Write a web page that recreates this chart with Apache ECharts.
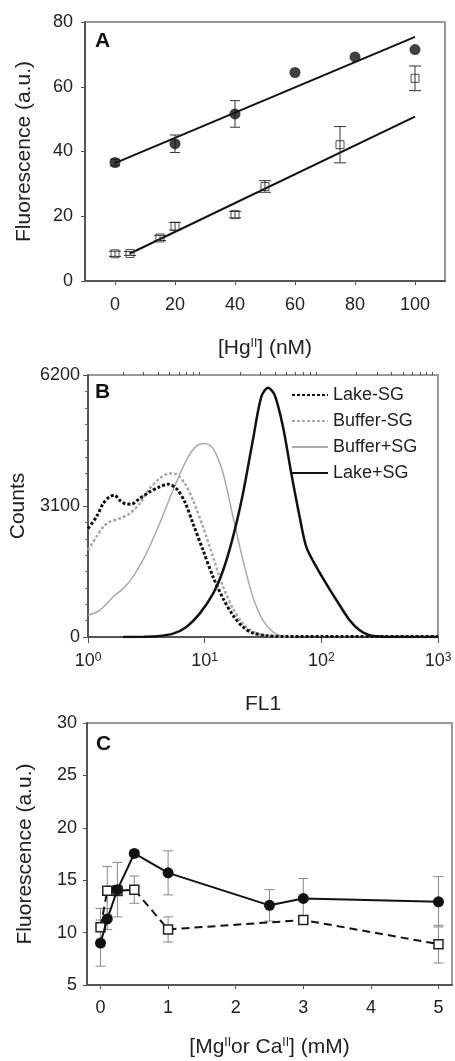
<!DOCTYPE html>
<html>
<head>
<meta charset="utf-8">
<script src="https://cdn.jsdelivr.net/npm/echarts@6/dist/echarts.min.js"></script>
<style>
html,body{margin:0;padding:0;background:#fff;}
#chart{width:455px;height:1061px;}
</style>
</head>
<body>
<div id="chart"></div>
<script>
// ---------- Panel A ----------
const aCircleX = [0, 20, 40, 60, 80, 100];
const aCircleY = [36.6, 42.4, 51.6, 64.4, 69.2, 71.5];
const aCircleErr = [1.0, 2.7, 4.1, 0, 0, 0];
const aSquareX = [0, 5, 15, 20, 40, 50, 75, 100];
const aSquareY = [8.4, 8.5, 13.3, 16.9, 20.5, 29.2, 42.1, 62.6];
const aSquareErr = [0.8, 0.6, 0.8, 1.2, 1.0, 1.8, 5.6, 3.8];
const aFitCircleX = [0, 100];
const aFitCircleY = [36.4, 75.4];
const aFitSquareX = [5, 100];
const aFitSquareY = [8.5, 50.8];
const aXTicks = [0, 20, 40, 60, 80, 100];

// ---------- Panel B ----------
const bLakeMinusX = [1, 1.18, 1.35, 1.53, 1.69, 1.87, 2.06, 2.35, 2.77, 3.38, 4.11, 4.85, 5.71, 6.75, 7.94, 9.68, 11.8, 14.4, 17.5, 21.3, 25.9, 33.8, 46.9, 100, 300, 1000];
const bLakeMinusY = [2567, 2843, 3159, 3317, 3357, 3238, 3159, 3143, 3278, 3436, 3554, 3617, 3515, 3199, 2685, 2054, 1422, 908, 513, 237, 95, 32, 12, 10, 10, 10];
const bBufferMinusX = [1, 1.18, 1.35, 1.53, 1.87, 2.28, 2.77, 3.38, 4.11, 5.01, 5.71, 6.75, 7.94, 9.68, 11.8, 14.4, 17.5, 21.3, 25.9, 33.8, 50];
const bBufferMinusY = [2054, 2370, 2606, 2725, 2804, 2922, 3159, 3515, 3752, 3870, 3854, 3633, 3238, 2606, 1896, 1185, 671, 316, 126, 32, 0];
const bBufferPlusX = [1, 1.26, 1.64, 2.0, 2.43, 3.16, 4.11, 5.36, 6.97, 8.49, 10, 11.8, 14.4, 17.5, 21.3, 25.9, 31.6, 38.5, 46.9, 60];
const bBufferPlusY = [513, 632, 948, 1145, 1422, 1975, 2685, 3475, 4186, 4518, 4580, 4462, 3870, 2843, 1817, 948, 395, 118, 16, 0];
const bLakePlusX = [2, 3, 3.85, 5.36, 6.97, 9.06, 11.8, 14.4, 17.5, 21.3, 25.9, 30.6, 34.9, 39.8, 46.9, 55.3, 65.2, 74.3, 90.6, 110, 135, 175, 213, 259, 338, 500, 1000];
const bLakePlusY = [0, 5, 16, 79, 237, 553, 1027, 1580, 2370, 3396, 4660, 5687, 5900, 5726, 4976, 3870, 2843, 2132, 1659, 1264, 869, 395, 158, 40, 8, 0, 0];
const bMajorTicks = [1, 10, 100, 1000];
const bMinorTicks = [2,3,4,5,6,7,8,9,20,30,40,50,60,70,80,90,200,300,400,500,600,700,800,900];
const bNames = ['Lake-SG', 'Buffer-SG', 'Buffer+SG', 'Lake+SG'];

// ---------- Panel C ----------
const cCircleX = [0, 0.1, 0.25, 0.5, 1, 2.5, 3, 5];
const cCircleY = [9.0, 11.3, 14.1, 17.55, 15.7, 12.6, 13.26, 12.94];
const cCircleErr = [2.2, 1.0, 2.6, 0.3, 2.1, 1.5, 1.9, 2.4];
const cSquareX = [0, 0.1, 0.25, 0.5, 1, 3, 5];
const cSquareY = [10.5, 14.0, 14.0, 14.1, 10.3, 11.2, 8.9];
const cSquareErr = [1.8, 2.3, 0.5, 1.3, 1.2, 0.4, 1.8];
const cXTicks = [0, 1, 2, 3, 4, 5];

const FONT = 'Liberation Sans, Arial, Helvetica, sans-serif';
const TXT = '#222';
const pairs = (xs, ys) => xs.map((x, i) => [x, ys[i]]);

function errBars(xi, yi, xs, ys, es, color, cap, z) {
  return {
    type: 'custom', xAxisIndex: xi, yAxisIndex: yi, z: z, silent: true,
    encode: {x: 0, y: [1, 2]},
    data: xs.map((x, i) => [x, ys[i] - es[i], ys[i] + es[i]]),
    renderItem: function (params, api) {
      if (api.value(2) <= api.value(1)) return null;
      const lo = api.coord([api.value(0), api.value(1)]);
      const hi = api.coord([api.value(0), api.value(2)]);
      const st = {stroke: color, lineWidth: 1};
      return {type: 'group', children: [
        {type: 'line', shape: {x1: lo[0], y1: lo[1], x2: hi[0], y2: hi[1]}, style: st},
        {type: 'line', shape: {x1: lo[0] - cap, y1: lo[1], x2: lo[0] + cap, y2: lo[1]}, style: st},
        {type: 'line', shape: {x1: hi[0] - cap, y1: hi[1], x2: hi[0] + cap, y2: hi[1]}, style: st}
      ]};
    }
  };
}

const axisLineDark = {show: true, onZero: false, lineStyle: {color: '#555', width: 2}};
const labelBase = {color: TXT, fontSize: 18, fontFamily: FONT};
const supRich = {sup: {fontSize: 12, verticalAlign: 'top', fontFamily: FONT, color: TXT}};
const nameBase = {color: TXT, fontSize: 21, fontFamily: FONT, rich: supRich};

const option = {
  animation: false,
  backgroundColor: '#fff',
  textStyle: {fontFamily: FONT},
  grid: [
    {left: 85, right: 10, top: 22, height: 259, show: true, borderColor: '#999', borderWidth: 2},
    {left: 88, right: 17, top: 375, height: 262, show: true, borderColor: '#999', borderWidth: 2},
    {left: 87, right: 3, top: 723, height: 262, show: true, borderColor: '#999', borderWidth: 2}
  ],
  xAxis: [
    {gridIndex: 0, type: 'value', min: -10, max: 110, interval: 10,
      axisLine: axisLineDark, splitLine: {show: false},
      axisTick: {show: true, length: 4, customValues: aXTicks, lineStyle: {color: '#555'}},
      axisLabel: Object.assign({customValues: aXTicks, margin: 15}, labelBase),
      name: '[Hg{sup|II}] (nM)', nameLocation: 'middle', nameGap: 57, nameTextStyle: nameBase},
    {gridIndex: 1, type: 'log', logBase: 10, min: 1, max: 1000,
      axisLine: axisLineDark, splitLine: {show: false}, minorSplitLine: {show: false},
      axisTick: {show: true, length: 6, customValues: bMajorTicks, lineStyle: {color: '#555'}},
      axisLabel: Object.assign({customValues: bMajorTicks, margin: 15,
        formatter: v => '10{sup|' + Math.round(Math.log10(v)) + '}', rich: supRich}, labelBase),
      name: 'FL1', nameLocation: 'middle', nameGap: 57, nameTextStyle: nameBase},
    {gridIndex: 1, type: 'value', min: 0, max: 3,
      axisLine: {show: false, onZero: false}, splitLine: {show: false},
      axisTick: {show: true, length: 3, customValues: bMinorTicks.map(Math.log10), lineStyle: {color: '#555', width: 1}},
      axisLabel: {show: false}},
    {gridIndex: 2, type: 'value', min: -0.2, max: 5.2, interval: 0.2,
      axisLine: axisLineDark, splitLine: {show: false},
      axisTick: {show: true, length: 4, customValues: cXTicks, lineStyle: {color: '#555'}},
      axisLabel: Object.assign({customValues: cXTicks, margin: 14}, labelBase),
      name: '[Mg{sup|II}or Ca{sup|II}] (mM)', nameLocation: 'middle', nameGap: 52, nameTextStyle: nameBase}
  ],
  yAxis: [
    {gridIndex: 0, type: 'value', min: 0, max: 80, interval: 20,
      axisLine: axisLineDark, splitLine: {show: false},
      axisTick: {show: true, length: 4, lineStyle: {color: '#555'}},
      axisLabel: Object.assign({margin: 12}, labelBase),
      name: 'Fluorescence (a.u.)', nameLocation: 'middle', nameGap: 50, nameTextStyle: nameBase},
    {gridIndex: 1, type: 'value', min: 0, max: 6200, interval: 3100,
      axisLine: axisLineDark, splitLine: {show: false},
      axisTick: {show: true, length: 5, lineStyle: {color: '#555'}},
      minorTick: {show: true, splitNumber: 8, length: 3, lineStyle: {color: '#666'}},
      axisLabel: Object.assign({margin: 8, formatter: v => String(v)}, labelBase),
      name: 'Counts', nameLocation: 'middle', nameGap: 52, nameTextStyle: nameBase},
    {gridIndex: 2, type: 'value', min: 5, max: 30, interval: 5,
      axisLine: axisLineDark, splitLine: {show: false},
      axisTick: {show: true, length: 4, lineStyle: {color: '#555'}},
      axisLabel: Object.assign({margin: 10}, labelBase),
      name: 'Fluorescence (a.u.)', nameLocation: 'middle', nameGap: 51, nameTextStyle: nameBase}
  ],
  legend: {
    show: true, orient: 'vertical', left: 291, top: 386, itemWidth: 36, itemHeight: 14, itemGap: 8,
    data: bNames, textStyle: {color: TXT, fontSize: 18, fontFamily: FONT}, padding: 0,
    itemStyle: {opacity: 0, borderWidth: 0}
  },
  graphic: [
    {type: 'text', left: 95, top: 31, style: {text: 'A', font: 'bold 21px ' + FONT, fill: '#111'}},
    {type: 'text', left: 95, top: 382, style: {text: 'B', font: 'bold 21px ' + FONT, fill: '#111'}},
    {type: 'text', left: 96, top: 734, style: {text: 'C', font: 'bold 21px ' + FONT, fill: '#111'}}
  ],
  series: [
    // Panel A
    {type: 'line', xAxisIndex: 0, yAxisIndex: 0, data: pairs(aFitCircleX, aFitCircleY), symbol: 'none',
      lineStyle: {color: '#111', width: 2}, z: 2},
    {type: 'line', xAxisIndex: 0, yAxisIndex: 0, data: pairs(aFitSquareX, aFitSquareY), symbol: 'none',
      lineStyle: {color: '#111', width: 2}, z: 2},
    errBars(0, 0, aCircleX, aCircleY, aCircleErr, '#333', 5, 3),
    errBars(0, 0, aSquareX, aSquareY, aSquareErr, '#333', 6, 3),
    {type: 'scatter', xAxisIndex: 0, yAxisIndex: 0, data: pairs(aCircleX, aCircleY), symbol: 'circle', symbolSize: 11,
      itemStyle: {color: '#111'}, z: 4},
    {type: 'scatter', xAxisIndex: 0, yAxisIndex: 0, data: pairs(aSquareX, aSquareY), symbol: 'rect', symbolSize: 8,
      itemStyle: {color: 'rgba(255,255,255,0)', borderColor: '#222', borderWidth: 1}, z: 4},
    // Panel B
    {name: 'Lake-SG', type: 'line', xAxisIndex: 1, yAxisIndex: 1, data: pairs(bLakeMinusX, bLakeMinusY), symbol: 'none', smooth: 0.3,
      lineStyle: {color: '#111', width: 3, type: [3, 2]}, itemStyle: {color: '#111'}, z: 3},
    {name: 'Buffer-SG', type: 'line', xAxisIndex: 1, yAxisIndex: 1, data: pairs(bBufferMinusX, bBufferMinusY), symbol: 'none', smooth: 0.3,
      lineStyle: {color: '#aaa', width: 2.5, type: [3, 2]}, itemStyle: {color: '#aaa'}, z: 2},
    {name: 'Buffer+SG', type: 'line', xAxisIndex: 1, yAxisIndex: 1, data: pairs(bBufferPlusX, bBufferPlusY), symbol: 'none', smooth: 0.3,
      lineStyle: {color: '#aaa', width: 1.5}, itemStyle: {color: '#aaa'}, z: 2},
    {name: 'Lake+SG', type: 'line', xAxisIndex: 1, yAxisIndex: 1, data: pairs(bLakePlusX, bLakePlusY), symbol: 'none', smooth: 0.3,
      lineStyle: {color: '#111', width: 2.5}, itemStyle: {color: '#111'}, z: 3},
    // Panel C
    errBars(3, 2, cCircleX, cCircleY, cCircleErr, '#888', 5, 2),
    errBars(3, 2, cSquareX, cSquareY, cSquareErr, '#888', 5, 2),
    {type: 'line', xAxisIndex: 3, yAxisIndex: 2, data: pairs(cSquareX, cSquareY), symbol: 'rect', symbolSize: 9,
      lineStyle: {color: '#111', width: 2, type: [8, 5]}, itemStyle: {color: '#fff', borderColor: '#222', borderWidth: 1.5}, z: 3},
    {type: 'line', xAxisIndex: 3, yAxisIndex: 2, data: pairs(cCircleX, cCircleY), symbol: 'circle', symbolSize: 11,
      lineStyle: {color: '#111', width: 2}, itemStyle: {color: '#111'}, z: 4}
  ]
};

const chart = echarts.init(document.getElementById('chart'), null, {renderer: 'canvas'});
chart.setOption(option);
</script>
</body>
</html>
